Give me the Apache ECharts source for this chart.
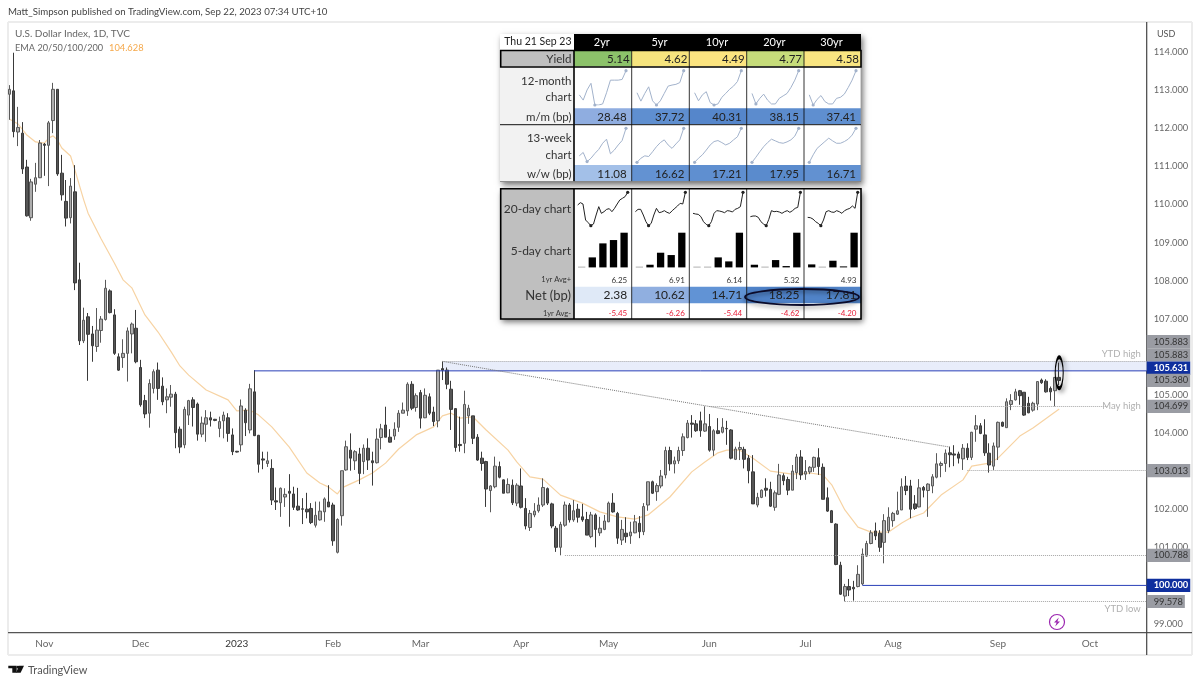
<!DOCTYPE html>
<html>
<head>
<meta charset="utf-8">
<title>U.S. Dollar Index</title>
<script src="https://cdn.jsdelivr.net/npm/echarts@6/dist/echarts.min.js"></script>
<style>
  html, body { margin: 0; padding: 0; background: #fff; }
  #main { width: 1200px; height: 684px; }
</style>
</head>
<body>
<div id="main"></div>
<script>
// daily bars: [open, close, low, high]
const ohlc = [
  [112.89,113.02,112.22,113.13],[112.98,111.91,111.76,113.98],[111.9,112.02,111.53,112.56],[111.87,110.93,110.8,112.16],
  [110.98,109.7,109.68,111.17],[109.65,110.59,109.57,110.67],[110.53,110.7,110.33,111.09],[110.7,111.61,110.69,111.69],
  [111.58,111.55,110.75,111.61],[111.55,112.14,110.48,112.19],[112.2,113.02,111.87,113.19],[113.02,110.8,110.75,113.02],
  [110.82,110.25,110.1,111.3],[110.08,109.64,109.42,110.64],[109.65,110.48,109.5,110.69],[110.33,107.94,107.75,111.03],
  [108.02,106.42,106.31,108.47],[106.42,106.96,106.36,107.29],[107.05,106.59,105.37,107.15],[106.6,106.29,105.87,106.81],
  [106.27,106.7,106.13,107.28],[106.69,106.99,106.37,107.07],[106.98,107.8,106.95,108.02],[107.73,107.16,107.14,107.77],
  [107.1,106.09,106.05,107.25],[106.0,105.65,105.63,106.09],[105.98,106.09,105.71,106.46],[106.09,106.68,105.35,106.77],
  [106.6,106.86,106.09,106.9],[106.75,105.87,105.83,107.23],[105.72,104.74,104.69,105.92],[104.85,104.5,104.39,105.0],
  [104.52,105.3,104.14,105.41],[105.17,105.61,105.04,105.67],[105.65,105.17,104.87,105.85],[105.23,104.82,104.73,105.46],
  [104.87,104.95,104.52,105.17],[104.94,105.02,104.69,105.26],[105.02,104.01,103.6,105.08],[104.1,103.63,103.47,104.17],
  [103.69,104.62,103.6,104.69],[104.47,104.85,104.21,104.87],[104.87,104.67,104.17,104.94],[104.76,103.97,103.8,104.8],
  [103.97,104.26,103.89,104.43],[104.23,104.4,103.77,104.6],[104.4,104.34,104.17,104.56],[104.36,104.33,104.31,104.37],
  [104.12,104.3,103.89,104.43],[104.32,104.47,103.86,104.56],[104.4,103.99,103.77,104.52],[103.95,103.51,103.42,104.12],
  [103.52,103.5,103.49,103.53],[103.69,104.71,103.51,104.88],[104.6,104.27,103.92,104.65],[104.08,105.16,103.99,105.29],
  [105.08,103.93,103.92,105.65],[103.94,103.18,102.96,103.95],[103.32,103.29,103.05,103.51],[103.2,103.27,103.11,103.51],
  [103.07,102.24,102.11,103.31],[102.22,102.19,101.98,102.57],[102.17,102.55,101.8,102.57],[102.32,102.39,102.06,102.55],
  [102.47,102.42,101.54,102.92],[102.4,102.05,101.98,102.59],[102.08,101.98,101.96,102.56],[102.01,102.0,101.61,102.29],
  [102.0,101.93,101.76,102.43],[102.02,101.65,101.61,102.16],[101.58,101.84,101.52,102.2],[101.72,101.95,101.7,102.2],
  [101.93,102.27,101.67,102.31],[102.19,102.06,102.06,102.63],[102.11,101.17,101.04,102.17],[100.87,101.73,100.84,101.76],
  [101.83,103.01,101.57,103.01],[103.03,103.64,103.01,103.8],[103.55,103.34,103.01,103.99],[103.27,103.51,103.03,103.55],
  [103.45,102.94,102.66,103.61],[103.25,103.6,102.92,103.7],[103.6,103.29,103.03,103.86],[103.27,103.22,102.62,103.51],
  [103.22,103.84,103.2,104.12],[103.88,104.11,103.57,104.24],[104.21,103.89,103.89,104.69],[103.89,103.76,103.75,104.1],
  [103.92,104.1,103.82,104.28],[104.15,104.52,104.03,104.6],[104.52,104.6,104.52,104.8],[104.58,105.28,104.45,105.33],
  [105.28,104.65,104.6,105.36],[104.67,104.98,104.56,105.04],[105.06,104.39,104.12,105.13],[104.4,104.99,104.39,105.17],
  [104.95,104.52,104.47,105.04],[104.55,104.3,104.18,104.69],[104.32,105.65,104.15,105.65],[105.69,105.65,105.39,105.88],
  [105.65,105.28,105.15,105.72],[105.15,104.62,104.08,105.37],[104.64,103.62,103.51,104.65],[103.7,103.67,103.51,104.43],
  [103.73,104.75,103.47,105.11],[104.45,104.65,104.24,104.74],[104.45,103.86,103.71,104.45],[103.89,103.29,103.27,103.97],
  [103.34,103.2,103.01,103.51],[103.25,102.53,102.06,103.27],[102.49,102.61,101.92,102.63],[102.59,103.13,102.55,103.38],
  [103.12,102.84,102.81,103.25],[102.77,102.42,102.42,102.78],[102.43,102.65,102.42,102.81],[102.63,102.17,102.11,102.78],
  [102.16,102.63,102.08,102.68],[102.61,102.05,102.02,103.07],[102.02,101.56,101.47,102.29],[101.52,101.89,101.43,101.98],
  [101.85,101.95,101.79,102.16],[101.96,102.11,101.91,102.31],[102.11,102.57,102.06,102.81],[102.54,102.16,102.11,102.57],
  [102.14,101.56,101.5,102.17],[101.5,101.0,100.88,101.56],[101.0,101.6,100.79,101.67],[101.58,102.11,101.54,102.2],
  [102.11,101.72,101.65,102.16],[101.72,101.96,101.67,102.24],[102.0,101.79,101.65,102.14],[101.8,101.72,101.67,102.14],
  [101.73,101.32,101.32,101.93],[101.28,101.85,101.24,101.93],[101.85,101.47,101.0,101.89],[101.38,101.5,101.3,101.8],
  [101.47,101.69,101.45,101.85],[101.67,102.16,101.66,102.2],[102.16,101.93,101.91,102.42],[101.89,101.24,101.09,101.93],
  [101.19,101.47,101.06,101.72],[101.37,101.28,101.12,101.79],[101.3,101.4,101.09,101.67],[101.38,101.67,101.37,101.85],
  [101.63,101.41,101.24,101.82],[101.41,102.07,101.32,102.16],[102.11,102.72,101.96,102.72],[102.72,102.42,102.4,102.75],
  [102.46,102.62,102.22,102.68],[102.61,102.87,102.55,103.03],[102.9,103.54,102.81,103.64],[103.54,103.19,103.01,103.64],
  [103.19,103.27,102.94,103.38],[103.27,103.54,103.19,103.64],[103.54,103.9,103.4,103.99],[103.88,104.26,103.86,104.34],
  [104.26,104.23,103.88,104.47],[104.24,104.06,104.03,104.34],[104.32,104.06,103.9,104.56],[104.05,104.24,104.03,104.7],
  [104.17,103.55,103.51,104.5],[103.55,104.06,103.4,104.1],[104.06,103.99,103.97,104.39],[104.02,104.15,103.99,104.39],
  [104.12,104.11,103.69,104.32],[104.08,103.34,103.31,104.1],[103.31,103.58,103.29,103.64],[103.57,103.62,103.29,103.77],
  [103.57,103.31,103.07,103.64],[103.34,103.01,102.68,103.42],[102.98,102.14,102.14,103.42],[102.11,102.31,102.05,102.43],
  [102.31,102.5,102.29,102.52],[102.55,102.5,102.33,102.81],[102.52,102.08,102.06,102.72],[102.05,102.43,101.96,102.49],
  [102.39,102.9,102.37,103.19],[102.88,102.75,102.63,102.94],[102.78,102.5,102.37,102.85],[102.5,103.0,102.5,103.16],
  [102.96,103.37,102.79,103.45],[103.37,102.9,102.77,103.55],[102.92,102.99,102.77,103.29],[102.98,103.1,102.92,103.13],
  [103.1,103.36,102.98,103.38],[103.35,103.12,102.9,103.6],[103.1,102.26,102.26,103.2],[102.3,101.95,101.93,102.57],
  [101.96,101.65,101.65,101.98],[101.61,100.55,100.53,101.63],[100.53,99.77,99.75,100.62],[99.72,99.97,99.58,100.04],
  [99.97,99.88,99.72,100.17],[99.95,99.91,99.6,100.12],[99.97,100.29,99.95,100.53],[100.04,100.82,100.01,100.97],
  [100.77,101.1,100.75,101.17],[101.1,101.38,101.08,101.45],[101.43,101.3,101.19,101.65],[101.37,101.0,100.88,101.45],
  [101.13,101.7,100.58,101.87],[101.44,101.79,101.37,102.05],[101.7,101.89,101.54,101.93],[101.87,101.96,101.85,102.46],
  [101.98,102.59,101.98,102.81],[102.61,102.49,102.37,102.87],[102.61,102.0,101.76,102.77],[102.14,102.02,101.98,102.37],
  [102.06,102.56,102.05,102.79],[102.57,102.5,102.31,102.61],[102.49,102.66,101.8,102.68],[102.61,102.85,102.42,102.92],
  [102.84,103.19,102.81,103.47],[103.15,103.2,102.84,103.25],[103.2,103.47,102.98,103.57],[103.48,103.43,103.1,103.64],
  [103.45,103.42,103.13,103.68],[103.45,103.34,103.2,103.51],[103.32,103.6,103.03,103.71],[103.6,103.36,103.29,103.73],
  [103.36,104.02,103.29,104.03],[104.1,104.19,103.77,104.47],[104.19,103.99,103.97,104.26],[103.95,103.48,103.4,104.36],
  [103.47,103.16,102.96,103.73],[103.13,103.66,103.03,103.75],[103.63,104.28,103.29,104.3],[104.28,104.18,104.16,104.3],
  [104.14,104.82,104.14,104.91],[104.75,104.85,104.6,105.02],[104.87,105.08,104.85,105.16],[105.11,104.98,104.74,105.13],
  [105.07,104.47,104.45,105.07],[104.78,104.53,104.52,104.95],[104.6,104.78,104.56,104.82],[104.76,105.35,104.6,105.36],
  [105.39,105.32,105.29,105.43],[105.36,105.08,105.06,105.41],[105.17,105.08,104.85,105.22],[105.11,105.46,104.7,105.47],
  [105.46,105.38,105.25,105.85]
];

// EMA read at the bends of the line
const emaBars = [0,2,4,6,8,9,10,11,12,14,15,17,18,21,22,24,26,28,31,34,37,39,41,45,50,52,55,57,60,64,68,71,73,75,76,80,83,86,89,93,97,99,101,103,106,109,114,116,119,122,126,131,135,139,143,146,151,156,159,162,164,167,170,174,179,183,186,188,191,194,197,201,204,206,209,213,218,220,224,226,231,234,240];
const emaValues = [112.24,112.11,111.82,111.64,111.61,111.74,111.8,111.69,111.48,111.27,110.9,110.12,109.77,109.09,108.88,108.46,108.02,107.81,107.1,106.65,106.13,105.76,105.52,105.13,104.87,104.58,104.6,104.47,104.16,103.63,102.95,102.69,102.58,102.4,102.56,102.77,102.95,103.21,103.58,103.95,104.16,104.45,104.52,104.39,104.42,104.08,103.55,103.24,102.85,102.79,102.37,102.16,101.93,101.8,101.74,101.85,102.32,102.98,103.24,103.48,103.55,103.55,103.34,103.0,102.92,102.95,102.9,102.64,101.98,101.53,101.4,101.4,101.64,101.77,101.9,102.37,102.77,103.13,103.21,103.34,103.92,104.13,104.63];

const barCount = 261;
const monthLabels = ["Nov","Dec","2023","Feb","Mar","Apr","May","Jun","Jul","Aug","Sep","Oct"];
const monthBars = [8,30,52,74,94,117,137,160,182,202,226,247];
const priceTicks = [114,113,112,111,110,109,108,107,105,104,102,101,99];

// levels drawn on the chart, first bar of each line and its value
const solidLevels = [[56,105.631],[195,100.0]];
const dottedLevels = [[99,105.883],[160,104.699,251],[219,103.013],[127,100.788],[191,99.578]];
const trendLine = [[99,105.88],[215,103.63]];
const zoneBars = [99,260];
const zoneValues = [105.883,105.631];

const priceTags = [105.883,105.883,105.631,105.38,104.699,103.013,100.788,100.0,99.578];
const tagShift = [-19.6,-6.3,-2.8,0,0,0,0,0,0];
const blueTags = [105.631,100.0];

// table
const tenors = ["2yr","5yr","10yr","20yr","30yr"];
const yields = ["5.14","4.62","4.49","4.77","4.58"];
const yieldColors = ["#8cc26a","#f6e47e","#fce480","#c6dc7a","#f9e581"];
const mmBp = ["28.48","37.72","40.31","38.15","37.41"];
const mmColors = ["#8fade0","#5f8fd0","#5586cb","#5c8cce","#5f8fd0"];
const wwBp = ["11.08","16.62","17.21","17.95","16.71"];
const wwColors = ["#a3c0e8","#6392d2","#5f8fd0","#5a8bcd","#6291d1"];
const avgPlus = ["6.25","6.91","6.14","5.32","4.93"];
const netBp = ["2.38","10.62","14.71","18.25","17.81"];
const netColors = ["#dfe9f7","#90afe0","#6193d5","#4f82c8","#5083c8"];
const avgMinus = ["-5.45","-6.26","-5.44","-4.62","-4.20"];

const chart12m = [
  [29,14,43,62,0,0,3,35,71,71,71,73,98],
  [35,11,33,52,12,0,12,33,54,57,59,64,98],
  [35,12,29,38,7,0,3,22,33,45,54,67,98],
  [33,3,19,31,14,3,3,19,26,33,50,71,98],
  [29,0,16,27,10,3,3,19,22,31,50,71,98]
];
const chart13w = [
  [19,29,2,12,26,38,56,68,25,36,51,64,100],
  [0,12,19,17,31,46,58,66,51,41,54,66,100],
  [0,12,22,36,51,61,64,58,51,56,66,75,100],
  [0,15,31,46,58,68,63,58,56,60,66,77,100],
  [0,22,41,51,61,71,63,56,56,61,68,80,100]
];
const chart20d = [
  [62,69,65,17,9,0,5,32,57,37,42,49,51,42,52,65,77,82,87,100],
  [42,49,49,32,12,0,7,32,52,39,41,45,40,37,45,52,59,67,65,100],
  [37,35,34,27,12,4,0,12,37,45,44,42,39,45,44,41,49,52,57,100],
  [27,29,29,25,12,5,0,19,45,42,43,41,37,42,45,40,45,52,55,100],
  [25,24,20,12,7,0,17,42,45,41,40,45,42,37,45,49,52,59,52,100]
];
const chart5d = [
  [2,30,72,82,104],
  [2,8,44,37,104],
  [2,2,30,18,104],
  [8,2,22,4,104],
  [9,2,20,3,104]
];

const tvFont = "Lato";
const tableFont = "Lato";
const colX = [574,631.7,689.3,746.7,804,861];

let graphics = [];

function rect(x, y, w, h, fill, extra) {
  graphics.push({ type: "rect", silent: true, z: 1, shape: { x: x, y: y, width: w, height: h }, style: Object.assign({ fill: fill }, extra || {}) });
}
function line(x1, y1, x2, y2, stroke, width) {
  graphics.push({ type: "line", silent: true, z: 1, shape: { x1: x1, y1: y1, x2: x2, y2: y2 }, style: { stroke: stroke, lineWidth: width || 1 } });
}
function text(x, y, str, size, color, align, font, weight) {
  graphics.push({
    type: "text", silent: true, z: 3, x: x, y: y,
    style: { text: str, fontSize: size, fill: color, align: align || "left", verticalAlign: "middle", fontFamily: font || tableFont, fontWeight: weight || "normal" }
  });
}
function polygon(points, fill) {
  graphics.push({ type: "polygon", silent: true, z: 3, shape: { points: points }, style: { fill: fill } });
}

function buildFrame() {
  line(8, 22, 1192, 22, "#ececec", 2);
  line(8, 22, 8, 655, "#ececec", 2);
  line(1192, 22, 1192, 655, "#ececec", 2);
  line(8, 655, 1192, 655, "#ececec", 2);
  line(8, 632.7, 1192, 632.7, "#555", 1.2);
  line(1146.7, 22, 1146.7, 655, "#444", 1.2);

  text(8, 12, "Matt_Simpson published on TradingView.com, Sep 22, 2023 07:34 UTC+10", 9.7, "#444", "left", tvFont);
  text(15, 34, "U.S. Dollar Index, 1D, TVC", 10, "#666", "left", tvFont);
  text(15, 48, "EMA 20/50/100/200", 9.2, "#666", "left", tvFont);
  text(109, 48, "104.628", 9.3, "#f5a84a", "left", tvFont);
  text(1157, 34, "USD", 9, "#555", "left", tvFont);

  // logo
  polygon([[8.3, 665.7], [16.7, 665.7], [16.7, 672.7], [12.3, 672.7], [12.3, 668.3], [8.3, 668.3]], "#111");
  polygon([[19, 665.7], [24, 665.7], [20.6, 672.7], [16, 672.7]], "#111");
  graphics.push({ type: "circle", silent: true, z: 3, shape: { cx: 18, cy: 667.2, r: 1.4 }, style: { fill: "#111" } });
  text(28, 670, "TradingView", 11, "#555", "left", tvFont);

  // flash icon on the time line
  graphics.push({ type: "circle", silent: true, z: 3, shape: { cx: 1057, cy: 622, r: 7.5 }, style: { fill: "#fff", stroke: "#9c27b0", lineWidth: 1.2 } });
  polygon([[1058.8, 617.5], [1054, 622.6], [1056.6, 622.6], [1055.2, 626.5], [1060, 621.4], [1057.4, 621.4]], "#9c27b0");
}

function buildTable() {
  const shadow = { shadowBlur: 6, shadowColor: "rgba(0,0,0,0.55)", shadowOffsetX: 2, shadowOffsetY: 3 };
  // top block
  rect(500, 34, 361, 147.5, "#fff", shadow);
  rect(574, 34, 287, 16.5, "#000");
  text(571.5, 42, "Thu 21 Sep 23", 10.5, "#222", "right");
  rect(500, 67, 74, 114.5, "#f2f2f2");
  rect(500, 50.5, 74, 16, "#bfbfbf");
  text(571.5, 59.3, "Yield", 11.5, "#333", "right");
  text(571.5, 81, "12-month", 11.5, "#333", "right");
  text(571.5, 97.7, "chart", 11.5, "#333", "right");
  text(571.5, 117.3, "m/m (bp)", 11.5, "#333", "right");
  text(571.5, 138.3, "13-week", 11.5, "#333", "right");
  text(571.5, 155, "chart", 11.5, "#333", "right");
  text(571.5, 174, "w/w (bp)", 11.5, "#333", "right");

  tenors.forEach(function (t, i) {
    const x = colX[i], w = colX[i + 1] - x, r = colX[i + 1];
    text(x + w / 2 - 1, 42, t, 11, "#fff", "center");
    rect(x, 50.5, w, 16, yieldColors[i]);
    text(r - 2, 59.3, yields[i], 11.5, "#222", "right");
    rect(x, 108.3, w, 16, mmColors[i]);
    text(r - 5, 117.3, mmBp[i], 11.5, "#222", "right");
    rect(x, 165, w, 16, wwColors[i]);
    text(r - 5, 174, wwBp[i], 11.5, "#222", "right");
    line(x, 50.5, x, 181.5, "#000", i === 0 ? 1.6 : 0.8);
  });
  line(861, 67, 861, 181.5, "#999", 0.8);
  line(500, 124.7, 861, 124.7, "#111", 1);
  line(500, 181.5, 861, 181.5, "#777", 0.8);
  rect(500.7, 50.5, 360.3, 16.5, "none", { stroke: "#000", lineWidth: 1.6 });

  // bottom block
  rect(500, 188.5, 361, 130.5, "#fff", shadow);
  rect(500, 188.5, 74, 130.5, "#bfbfbf");
  text(571, 209.3, "20-day chart", 12, "#333", "right");
  text(571, 250.7, "5-day chart", 12, "#333", "right");
  text(571, 280, "1yr Avg+", 7.5, "#333", "right");
  text(571, 295.7, "Net (bp)", 13, "#333", "right");
  text(571, 313.3, "1yr Avg-", 7.5, "#333", "right");
  tenors.forEach(function (t, i) {
    const x = colX[i], w = colX[i + 1] - x, r = colX[i + 1];
    text(r - 4.5, 280, avgPlus[i], 8, "#333", "right");
    rect(x, 286.7, w, 16.6, netColors[i]);
    text(r - 4.5, 295.5, netBp[i], 12, "#222", "right");
    text(r - 4.5, 313, avgMinus[i], 8, "#e8203a", "right");
    line(x, 188.5, x, 319, "#000", i === 0 ? 1.6 : 0.8);
  });
  rect(500.7, 188.7, 360.3, 130.3, "none", { stroke: "#000", lineWidth: 1.6 });

  // oval round the two long-end nets
  graphics.push({
    type: "ellipse", silent: true, z: 4, shape: { cx: 802, cy: 297, rx: 57, ry: 8 },
    style: { fill: "none", stroke: "#0b0b2a", lineWidth: 1.8, shadowBlur: 4, shadowColor: "rgba(0,0,0,0.5)", shadowOffsetY: 2 }
  });
}

// mini charts in the table cells
let grids = [{ left: 9.33, top: 22, width: 1137.37, height: 610.7 }];
let xAxes = [];
let yAxes = [];
let series = [];

function addMini(left, top, width, height, data, kind, yMax, color) {
  const idx = grids.length;
  grids.push({ left: left, top: top, width: width, height: height, z: 5 });
  xAxes.push({ gridIndex: idx, type: "category", show: false, boundaryGap: kind === "bar", data: data.map(function (d, i) { return String(i); }) });
  yAxes.push({ gridIndex: idx, type: "value", show: false, min: 0, max: yMax, splitLine: { show: false } });
  if (kind === "bar") {
    series.push({
      type: "bar", xAxisIndex: idx, yAxisIndex: idx, barWidth: 7.3, silent: true, animation: false, z: 5,
      data: data.map(function (v) { return { value: v, itemStyle: { color: v <= 2 ? "#888" : "#000" } }; })
    });
  } else {
    const low = data.indexOf(Math.min.apply(null, data));
    const last = data.length - 1;
    series.push({
      type: "line", xAxisIndex: idx, yAxisIndex: idx, data: data, silent: true, animation: false, z: 5,
      showSymbol: true, showAllSymbol: true, symbol: "circle",
      symbolSize: function (v, p) { return p.dataIndex === low || p.dataIndex === last ? 3.2 : 0; },
      lineStyle: { color: color, width: 1 }, itemStyle: { color: color }
    });
  }
}

function buildMinis() {
  tenors.forEach(function (t, i) {
    const x = colX[i];
    addMini(x + 5.3, 70, 46.7, 35, chart12m[i], "line", 100, "#a2b2cb");
    addMini(x + 5.3, 128.3, 46.7, 34, chart13w[i], "line", 100, "#a2b2cb");
    addMini(x + 3.7, 192.3, 50, 33.4, chart20d[i], "line", 100, "#222");
    addMini(x + 2.4, 232.7, 53, 34.7, chart5d[i], "bar", 104);
  });
}

function levelLine(from, to, style) {
  return [{ coord: from, symbol: "none", lineStyle: style }, { coord: to, symbol: "none", lineStyle: style, label: { show: false } }];
}

function initChart(myChart) {
  buildFrame();
  buildTable();
  buildMinis();

  const categories = Array.from({ length: barCount }, function (v, i) { return String(i); });
  const lastBar = barCount - 1;
  const dotLine = { color: "#a5a5a5", width: 1, type: "dotted" };

  let marks = [];
  dottedLevels.forEach(function (l) { marks.push(levelLine([l[0], l[1]], [l[2] || lastBar, l[1]], dotLine)); });
  marks.push(levelLine(trendLine[0], trendLine[1], { color: "#777", width: 1, type: "dotted" }));

  // the two solid blue levels go in as plain line series
  const levelSeries = solidLevels.map(function (l) {
    return {
      name: "Level " + l[1], type: "line", xAxisIndex: 0, yAxisIndex: 0, showSymbol: false, silent: true, z: 3,
      data: [[l[0], l[1]], [lastBar, l[1]]],
      lineStyle: { color: "#2a40b8", width: 1 }
    };
  });

  let points = priceTags.map(function (v, i) {
    const blue = blueTags.indexOf(v) >= 0;
    return {
      coord: [lastBar, v], symbol: "rect", symbolSize: 0,
      label: {
        show: true, position: "right", distance: 0, formatter: v.toFixed(3), offset: [0, tagShift[i]],
        fontFamily: tvFont, fontSize: 9.3, color: blue ? "#fff" : "#333", fontWeight: blue ? "bold" : "normal",
        backgroundColor: blue ? "#0f2f9e" : "#9a9ca3", padding: [2.2, 2, 1.5, 7], lineHeight: 9.5
      }
    };
  });
  [["YTD high", 105.883, -7], ["May high", 104.699, 0], ["YTD low", 99.578, 7]].forEach(function (n) {
    points.push({
      coord: [lastBar, n[1]], symbol: "rect", symbolSize: 0,
      label: { show: true, position: "left", distance: 6, offset: [0, n[2]], formatter: n[0], fontFamily: tvFont, fontSize: 9.5, color: "#b0b0b0" }
    });
  });
  // oval round the last bar
  points.push({
    coord: [240, 105.58], symbol: "circle", symbolSize: [8, 31], label: { show: false },
    itemStyle: { color: "rgba(0,0,0,0)", borderColor: "#000", borderWidth: 2, shadowBlur: 5, shadowColor: "rgba(0,0,0,0.6)", shadowOffsetX: 2, shadowOffsetY: 2 }
  });

  let option = {
    animation: false,
    backgroundColor: "#fff",
    textStyle: { fontFamily: tvFont },
    grid: grids,
    xAxis: [{
      type: "category", gridIndex: 0, data: categories, boundaryGap: false,
      axisLine: { show: false }, axisTick: { show: false }, splitLine: { show: false },
      axisLabel: {
        margin: 6, fontSize: 10, color: "#666", fontFamily: tvFont,
        interval: function (i) { return monthBars.indexOf(i) >= 0; },
        formatter: function (v, i) {
          const s = monthLabels[monthBars.indexOf(Number(v))] || "";
          return s === "2023" ? "{y|2023}" : s;
        },
        rich: { y: { color: "#333", fontSize: 10, fontFamily: tvFont } }
      }
    }].concat(xAxes),
    yAxis: [{
      type: "value", gridIndex: 0, position: "right", min: 98.759, max: 114.787, scale: true,
      axisLine: { show: false }, axisTick: { show: false }, splitLine: { show: false },
      axisLabel: {
        margin: 7, fontSize: 9.3, color: "#666", fontFamily: tvFont, customValues: priceTicks,
        formatter: function (v) { return v.toFixed(3); }
      }
    }].concat(yAxes),
    graphic: { elements: graphics },
    series: [
      {
        name: "U.S. Dollar Index", type: "candlestick", xAxisIndex: 0, yAxisIndex: 0, data: ohlc, barWidth: 3, clip: false, silent: true,
        itemStyle: { color: "#adadad", color0: "#555", borderColor: "#5a5a5a", borderColor0: "#3a3a3a", borderWidth: 1 },
        markArea: {
          silent: true, itemStyle: { color: "#e8edfa" }, label: { show: false },
          data: [[{ coord: [zoneBars[0], zoneValues[0]] }, { coord: [zoneBars[1], zoneValues[1]] }]]
        },
        markLine: { silent: true, symbol: "none", label: { show: false }, animation: false, data: marks },
        markPoint: { silent: true, animation: false, data: points }
      },
      {
        name: "EMA", type: "line", xAxisIndex: 0, yAxisIndex: 0, showSymbol: false, silent: true, z: 1, smooth: false,
        data: emaBars.map(function (b, i) { return [b, emaValues[i]]; }),
        lineStyle: { color: "#f7d3a3", width: 1.2 }
      }
    ].concat(levelSeries).concat(series)
  };

  option && myChart.setOption(option);
}

const myChart = echarts.init(document.getElementById("main"));
initChart(myChart);
</script>
</body>
</html>
